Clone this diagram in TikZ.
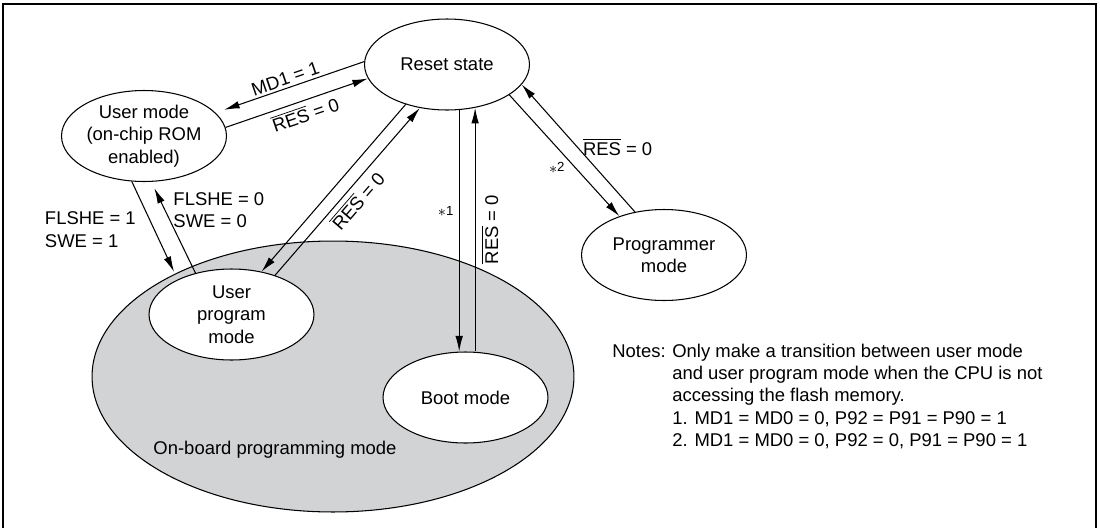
\documentclass[tikz,border=0pt]{standalone}
\usepackage{fontspec}
\setmainfont{Liberation Sans}
\usetikzlibrary{positioning,arrows.meta,calc,shapes.geometric}
\definecolor{BoardGray}{RGB}{210,211,213}
\newcommand{\resbar}{$\overline{\mbox{RES}}$}
\newcommand{\starmark}[1]{{\fontsize{9}{10}\selectfont$\ast$}{\fontsize{7.5}{9}\selectfont\raisebox{1pt}{#1}}}

\begin{document}
\begin{tikzpicture}[x=0.02cm, y=-0.02cm, font={\fontsize{10.5}{12.8}\selectfont}, every node/.style={align=center},
  mode/.style={draw, ellipse, line width=0.6pt, fill=white, inner sep=0pt, minimum width=3.3cm, minimum height=1.82cm},
  trans/.style={-{Latex[length=3.1mm,width=1.5mm]}, line width=0.6pt}]
  \useasboundingbox (0,0) rectangle (1100,528);
  \draw[line width=1.5pt] (3,540) -- (3,4) -- (1096,4) -- (1096,540);
  % on-board programming area
  \node[draw, ellipse, line width=0.6pt, fill=BoardGray, minimum width=9.64cm, minimum height=5.42cm] (board) at (333,376.5) {};
  \node (boardlbl) at (275,450) {On-board programming mode};
  % modes
  \node[mode] (reset) at (447,64.5) {Reset state};
  \node[mode] (user) at (144,136) {User mode\\(on-chip ROM\\enabled)};
  \node[mode] (upm) at (231.5,314.5) {User\\program\\mode};
  \node[mode] (boot) at (465.5,397.5) {Boot mode};
  \node[mode] (prog) at (664,255) {Programmer\\mode};
  % transitions
  \draw[trans, shorten >=0.18cm] (reset.178) -- node[pos=.51, above, sloped, inner sep=1.5pt] {MD1 = 1} (user.18);
  \draw[trans] (user.6) -- node[pos=.53, below, sloped, inner sep=2.5pt] {\resbar{} = 0} (reset.190);
  \draw[trans] (reset.224) -- (upm.55);
  \draw[trans] (upm.42) -- node[midway, below, sloped, inner sep=2.5pt] {\resbar{} = 0} (reset.238);
  \draw[trans] (reset.285) -- node[pos=.42, left, inner sep=3pt] {\starmark{1}} (reset.285 |- boot.north);
  \draw[trans] (boot.north -| reset.303) -- node[midway, below, sloped, inner sep=3.5pt] {\resbar{} = 0} (reset.303);
  \draw[trans] (reset.334) -- node[pos=.53, below left, inner sep=1.5pt] {\starmark{2}} (prog.139);
  \draw[trans] (prog.124) -- node[pos=.51, right, inner sep=3pt] {\resbar{} = 0} (reset.345);
  \draw[trans, shorten >=0.17cm] (user.255) -- node[pos=.49, anchor=east, align=left, inner sep=0pt, xshift=-0.36cm] {FLSHE = 1\\SWE = 1} (upm.147);
  \draw[trans, shorten >=0.14cm] (upm.131) -- node[pos=.69, anchor=west, align=left, inner sep=0pt, xshift=0.16cm] {FLSHE = 0\\SWE = 0} (user.279);
  % notes
  \node[anchor=base west, inner sep=0pt, align=left] (notes) at (612,357) {\begin{tabular}[t]{@{}p{1.2cm}@{}l@{}}
    Notes: & Only make a transition between user mode\\
           & and user program mode when the CPU is not\\
           & accessing the flash memory.\\
           & 1. MD1 = MD0 = 0, P92 = P91 = P90 = 1\\
           & 2. MD1 = MD0 = 0, P92 = 0, P91 = P90 = 1
  \end{tabular}};
\end{tikzpicture}
\end{document}
